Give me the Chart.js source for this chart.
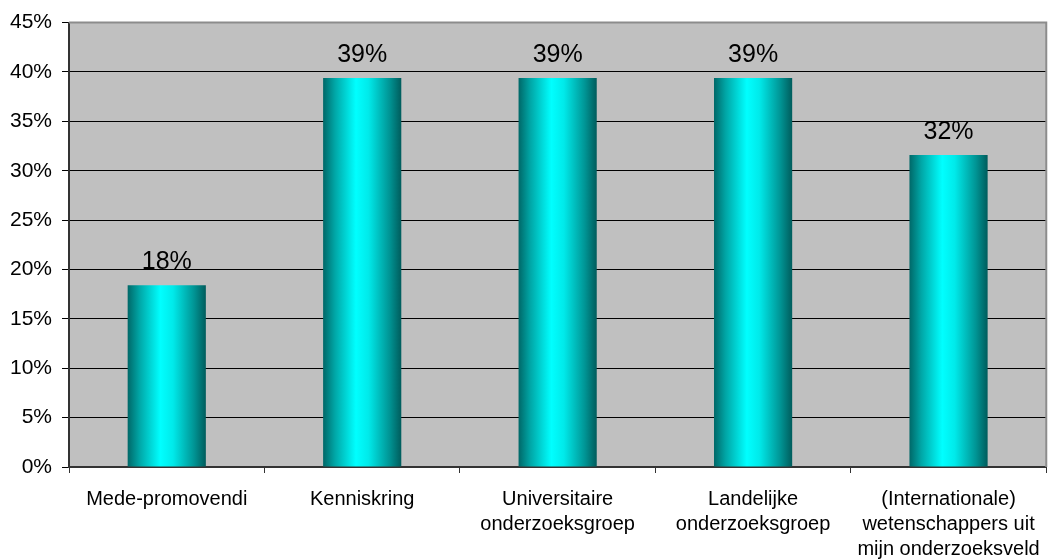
<!DOCTYPE html>
<html lang="nl">

<head>
    <meta charset="UTF-8" />
    <meta name="viewport" content="width=device-width, initial-scale=1.0" />
    <title>Netwerk</title>
    <script src="https://cdn.jsdelivr.net/npm/chart.js@4.4.1/dist/chart.umd.min.js"></script>
    <style>
        body { margin: 0; background: #fff; }
        #wrap { width: 1054px; height: 560px; }
    </style>
</head>

<body>
    <div id="wrap">
        <canvas id="barChart"></canvas>
    </div>

    <script>
        // Data
        const categories = [
            'Mede-promovendi',
            'Kenniskring',
            ['Universitaire', 'onderzoeksgroep'],
            ['Landelijke', 'onderzoeksgroep'],
            ['(Internationale)', 'wetenschappers uit', 'mijn onderzoeksveld']
        ];
        const percentages = [18.4, 39.4, 39.4, 39.4, 31.6];
        const yTicks = [0, 5, 10, 15, 20, 25, 30, 35, 40, 45];

        const FONT = "'Liberation Sans', Arial, sans-serif";

        // cylinder-like shading across each bar
        function barGradient(ctx) {
            const chart = ctx.chart;
            const xs = chart.scales.x;
            if (!xs || !chart.chartArea || ctx.dataIndex === undefined) return '#00cccc';
            const cx = xs.getPixelForValue(ctx.dataIndex);
            const w = xs.width / categories.length * 0.4;
            const g = chart.ctx.createLinearGradient(cx - w / 2, 0, cx + w / 2, 0);
            g.addColorStop(0, '#006868');
            g.addColorStop(0.15, '#00a6a6');
            g.addColorStop(0.42, '#00ffff');
            g.addColorStop(0.58, '#00eaea');
            g.addColorStop(0.85, '#009494');
            g.addColorStop(1, '#005c5c');
            return g;
        }

        // grey plot area plus the light frame on top and right
        const plotFrame = {
            id: 'plotFrame',
            beforeDraw(chart) {
                const { ctx, chartArea: a } = chart;
                ctx.save();
                ctx.fillStyle = '#c0c0c0';
                ctx.fillRect(a.left, a.top, a.right - a.left, a.bottom - a.top);
                ctx.restore();
            },
            afterDraw(chart) {
                const { ctx, chartArea: a } = chart;
                ctx.save();
                ctx.strokeStyle = '#8c8c8c';
                ctx.lineWidth = 2;
                ctx.beginPath();
                ctx.moveTo(a.left, a.top);
                ctx.lineTo(a.right, a.top);
                ctx.lineTo(a.right, a.bottom);
                ctx.stroke();
                ctx.restore();
            }
        };

        // value above each bar
        const valueLabels = {
            id: 'valueLabels',
            afterDatasetsDraw(chart) {
                const { ctx } = chart;
                const meta = chart.getDatasetMeta(0);
                ctx.save();
                ctx.font = '25px ' + FONT;
                ctx.fillStyle = '#000';
                ctx.textAlign = 'center';
                ctx.textBaseline = 'alphabetic';
                meta.data.forEach((bar, i) => {
                    ctx.fillText(Math.round(percentages[i]) + '%', bar.x, bar.y - 16);
                });
                ctx.restore();
            }
        };

        document.addEventListener("DOMContentLoaded", function () {
            const ctx = document.getElementById('barChart').getContext('2d');
            new Chart(ctx, {
                type: 'bar',
                data: {
                    labels: categories,
                    datasets: [{
                        data: percentages,
                        backgroundColor: barGradient,
                        borderWidth: 0,
                        barPercentage: 0.4,
                        categoryPercentage: 1
                    }]
                },
                options: {
                    responsive: true,
                    maintainAspectRatio: false,
                    animation: false,
                    layout: {
                        padding: { top: 21, right: 3, bottom: 0, left: 0 }
                    },
                    plugins: {
                        legend: { display: false },
                        tooltip: { enabled: false }
                    },
                    scales: {
                        x: {
                            afterFit(scale) {
                                scale.height = 93;
                            },
                            grid: {
                                drawOnChartArea: false,
                                drawTicks: true,
                                tickLength: 6,
                                color: '#333'
                            },
                            border: { color: '#333', width: 2 },
                            ticks: {
                                color: '#000',
                                font: { family: FONT, size: 20, lineHeight: 1.25 },
                                padding: 14,
                                maxRotation: 0,
                                autoSkip: false
                            }
                        },
                        y: {
                            min: 0,
                            max: 45,
                            afterBuildTicks(scale) {
                                scale.ticks = yTicks.map(v => ({ value: v }));
                            },
                            grid: {
                                color: '#000',
                                lineWidth: 1,
                                tickLength: 7
                            },
                            border: { color: '#333', width: 2 },
                            ticks: {
                                color: '#000',
                                font: { family: FONT, size: 21 },
                                padding: 10,
                                callback: v => v + '%'
                            }
                        }
                    }
                },
                plugins: [plotFrame, valueLabels]
            });
        });
    </script>
</body>

</html>
